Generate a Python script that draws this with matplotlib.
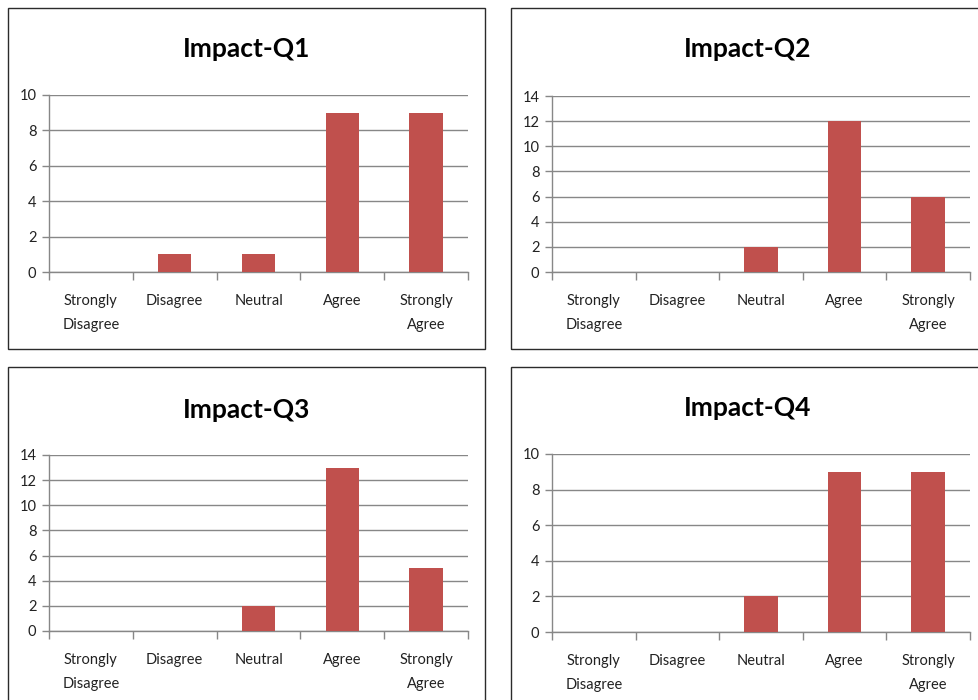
import matplotlib
matplotlib.use("Agg")
import matplotlib.pyplot as plt
from matplotlib.patches import Rectangle

plt.rcParams['font.family'] = ['Lato', 'DejaVu Sans']

categories = ["Strongly\nDisagree", "Disagree", "Neutral", "Agree", "Strongly\nAgree"]
titles = ["Impact-Q1", "Impact-Q2", "Impact-Q3", "Impact-Q4"]
q1 = [0, 1, 1, 9, 9]
q2 = [0, 0, 2, 12, 6]
q3 = [0, 0, 2, 13, 5]
q4 = [0, 0, 2, 9, 9]
series = [q1, q2, q3, q4]
y_max = [10, 14, 14, 10]

W, H = 979, 700
fig = plt.figure(figsize=(W / 100, H / 100), dpi=100)
fig.patch.set_facecolor("white")

BAR = "#C0504D"
GRID = "#878787"

# panel frames (x0, y0, x1, y1) in pixels from top-left
frames = [(8, 8, 485, 349), (511, 8, 990, 349), (8, 367, 485, 710), (511, 367, 990, 710)]
# plot areas (left, top, right, bottom) in pixels
areas = [(49, 95, 468, 272), (552, 96, 970, 272), (49, 455, 468, 631), (552, 454, 970, 632)]
title_y = [49, 49, 410, 408]


def fx(x):
    return x / W


def fy(y):
    return 1 - y / H


for i in range(4):
    x0, y0, x1, y1 = frames[i]
    fig.patches.append(Rectangle((fx(x0), fy(y1)), fx(x1 - x0), (y1 - y0) / H,
                                 transform=fig.transFigure, fill=False,
                                 edgecolor="#2b2b2b", linewidth=1.0, zorder=0))
    l, t, r, b = areas[i]
    ax = fig.add_axes([fx(l), fy(b), fx(r - l), (b - t) / H])
    xs = list(range(len(categories)))
    ax.bar(xs, series[i], width=0.4, color=BAR, zorder=3)
    ax.set_xlim(-0.5, len(categories) - 0.5)
    ax.set_ylim(0, y_max[i])
    ax.set_yticks(range(0, y_max[i] + 1, 2))
    ax.yaxis.grid(True, color=GRID, linewidth=1.0)
    ax.set_axisbelow(True)
    for s in ["top", "right"]:
        ax.spines[s].set_visible(False)
    ax.spines["left"].set_color(GRID)
    ax.spines["bottom"].set_color(GRID)
    ax.spines["bottom"].set_linewidth(1.0)
    ax.spines["left"].set_linewidth(1.0)
    # category boundary tick marks
    ax.set_xticks([x - 0.5 for x in range(len(categories) + 1)])
    ax.set_xticklabels([])
    ax.set_xticks(xs, minor=True)
    ax.set_xticklabels(categories, minor=True, fontsize=10.5, color="#222222",
                       linespacing=1.85, va="top")
    ax.tick_params(axis="x", which="major", length=6, color=GRID, width=1)
    ax.tick_params(axis="x", which="minor", length=0, pad=16)
    ax.tick_params(axis="y", length=5, color=GRID, width=1, labelsize=10.5,
                   labelcolor="#222222", pad=4)
    cx = (x0 + min(x1, 979)) / 2 if i % 2 == 0 else (x0 + 985) / 2
    fig.text(fx(cx), fy(title_y[i]), titles[i], ha="center", va="center",
             fontsize=19, fontweight="bold", color="black")

fig.savefig("out.png", dpi=100, facecolor="white")
